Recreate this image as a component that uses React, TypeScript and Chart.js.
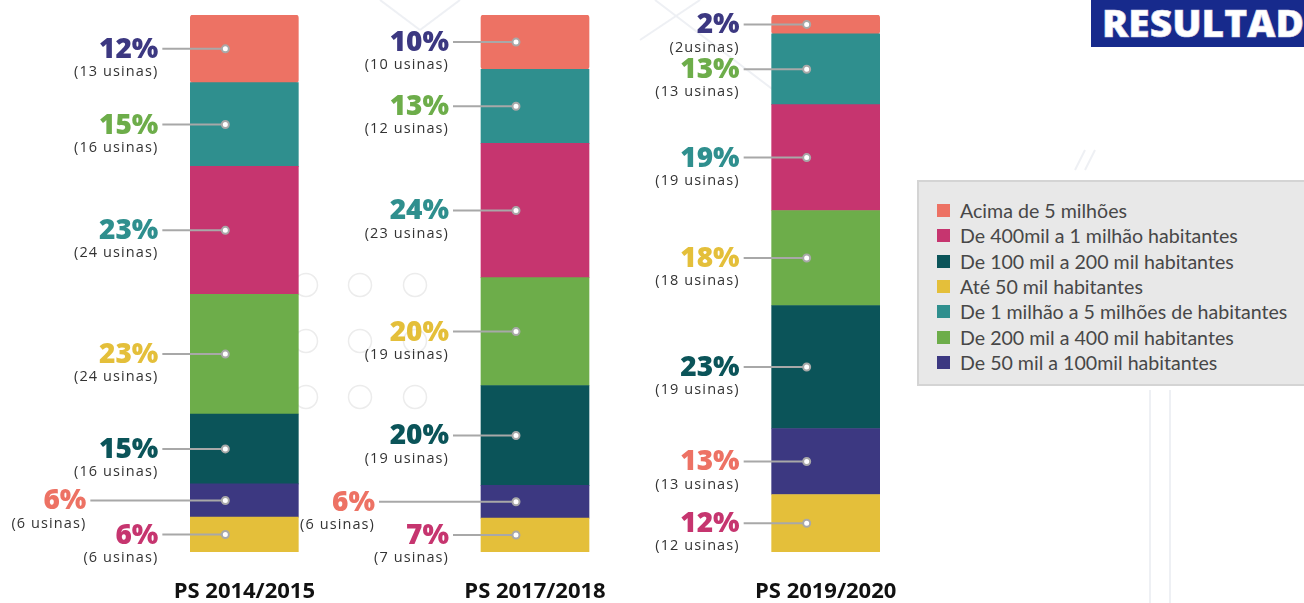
import React, { useEffect, useRef } from "react";
import { Chart, registerables } from "chart.js";

Chart.register(...registerables);

// ---- Data ----
const categories = ["PS 2014/2015", "PS 2017/2018", "PS 2019/2020"];

// stack order: bottom -> top
const seriesNames = [
  "Até 50 mil habitantes",
  "De 50 mil a 100mil habitantes",
  "De 100 mil a 200 mil habitantes",
  "De 200 mil a 400 mil habitantes",
  "De 400mil a 1 milhão habitantes",
  "De 1 milhão a 5 milhões de habitantes",
  "Acima de 5 milhões",
];

// segment shares
const ate50 = [6.5, 6.3, 10.7];
const de50a100 = [6.2, 6.1, 12.3];
const de100a200 = [13.0, 18.6, 22.9];
const de200a400 = [22.3, 20.1, 17.7];
const de400a1mi = [23.8, 25.0, 19.7];
const de1a5mi = [15.6, 13.8, 13.2];
const acima5mi = [12.6, 10.1, 3.5];

// printed percentage labels
const pctAte50 = ["6%", "7%", "12%"];
const pct50a100 = ["6%", "6%", "13%"];
const pct100a200 = ["15%", "20%", "23%"];
const pct200a400 = ["23%", "20%", "18%"];
const pct400a1mi = ["23%", "24%", "19%"];
const pct1a5mi = ["15%", "13%", "13%"];
const pctAcima5mi = ["12%", "10%", "2%"];

// printed plant counts
const usAte50 = ["(6 usinas)", "(7 usinas)", "(12 usinas)"];
const us50a100 = ["(6 usinas)", "(6 usinas)", "(13 usinas)"];
const us100a200 = ["(16 usinas)", "(19 usinas)", "(19 usinas)"];
const us200a400 = ["(24 usinas)", "(19 usinas)", "(18 usinas)"];
const us400a1mi = ["(24 usinas)", "(23 usinas)", "(19 usinas)"];
const us1a5mi = ["(16 usinas)", "(12 usinas)", "(13 usinas)"];
const usAcima5mi = ["(13 usinas)", "(10 usinas)", "(2usinas)"];

// legend order (indices into seriesNames)
const legendOrder = [6, 4, 2, 0, 5, 3, 1];

// ---- Styles ----
const SALMON = "#ED7264";
const TEAL = "#2F8F8E";
const MAGENTA = "#C6356F";
const GREEN = "#6DAD4A";
const DARKTEAL = "#0B5459";
const PURPLE = "#3C3881";
const YELLOW = "#E4BF3A";

const seriesColors = [YELLOW, PURPLE, DARKTEAL, GREEN, MAGENTA, TEAL, SALMON];
const labelColors = [MAGENTA, SALMON, DARKTEAL, YELLOW, TEAL, GREEN, PURPLE];
const seriesValues = [ate50, de50a100, de100a200, de200a400, de400a1mi, de1a5mi, acima5mi];
const seriesPct = [pctAte50, pct50a100, pct100a200, pct200a400, pct400a1mi, pct1a5mi, pctAcima5mi];
const seriesUsinas = [usAte50, us50a100, us100a200, us200a400, us400a1mi, us1a5mi, usAcima5mi];
// extra horizontal pull-out of some small-segment callouts (series index -> per bar)
const calloutExtra: Record<number, number[]> = { 1: [72, 74, 0] };

const calloutPlugin = {
  id: "callouts",
  afterDatasetsDraw(chart: any) {
    const ctx = chart.ctx as CanvasRenderingContext2D;
    ctx.save();
    chart.data.datasets.forEach((ds: any, i: number) => {
      const meta = chart.getDatasetMeta(i);
      meta.data.forEach((el: any, j: number) => {
        const p = el.getProps(["x", "y", "base", "width"], true);
        const cy = (p.y + p.base) / 2;
        const left = p.x - p.width / 2;
        const dotX = left + 35;
        const extra = (calloutExtra[i] && calloutExtra[i][j]) || 0;
        const textRight = left - 32 - extra;
        // leader line
        ctx.strokeStyle = "#A8A8A8";
        ctx.lineWidth = 2;
        ctx.beginPath();
        ctx.moveTo(textRight + 4, cy);
        ctx.lineTo(dotX, cy);
        ctx.stroke();
        // dot
        ctx.beginPath();
        ctx.arc(dotX, cy, 3.5, 0, Math.PI * 2);
        ctx.fillStyle = "#FFFFFF";
        ctx.fill();
        ctx.lineWidth = 2;
        ctx.strokeStyle = "#A8A8A8";
        ctx.stroke();
        // percentage
        ctx.textAlign = "right";
        ctx.textBaseline = "middle";
        ctx.fillStyle = ds.calloutColor;
        ctx.font = '800 28px "Open Sans"';
        ctx.fillText(ds.pct[j], textRight, cy + 1);
        // count
        (ctx as any).letterSpacing = "1.1px";
        ctx.fillStyle = "#333333";
        ctx.font = '400 14.5px "Open Sans"';
        ctx.fillText(ds.usinas[j], textRight, cy + 23);
        (ctx as any).letterSpacing = "0px";
      });
    });
    ctx.restore();
  },
};

const circleSpots: [number, number][] = [];
for (const cx of [306, 360, 415]) for (const cyy of [285, 341, 397]) circleSpots.push([cx, cyy]);

export default function App() {
  const canvasRef = useRef<HTMLCanvasElement | null>(null);

  useEffect(() => {
    document.body.style.margin = "0";
    const canvas = canvasRef.current;
    if (!canvas) return;
    const chart = new Chart(canvas, {
      type: "bar",
      data: {
        labels: categories,
        datasets: seriesNames.map((name, i) => ({
          label: name,
          data: seriesValues[i],
          backgroundColor: seriesColors[i],
          borderWidth: 0,
          borderRadius: 3,
          borderSkipped: false,
          barThickness: 108,
          pct: seriesPct[i],
          usinas: seriesUsinas[i],
          calloutColor: labelColors[i],
        })) as any,
      },
      options: {
        responsive: false,
        animation: false,
        devicePixelRatio: 1,
        layout: { padding: { left: 99, right: 333, top: 15, bottom: 0 } },
        plugins: {
          legend: { display: false },
          tooltip: { enabled: false },
        },
        scales: {
          x: {
            stacked: true,
            grid: { display: false, drawTicks: false },
            border: { display: false },
            afterFit: (scale: any) => {
              scale.height = 51;
            },
            ticks: {
              padding: 27,
              color: "#111111",
              font: { family: '"Open Sans"', weight: "bold", size: 22 },
            },
          },
          y: {
            stacked: true,
            display: false,
            min: 0,
            max: 100,
          },
        },
      },
      plugins: [calloutPlugin],
    });
    return () => chart.destroy();
  }, []);

  return (
    <div
      style={{
        position: "absolute",
        left: 0,
        top: 0,
        width: 1304,
        height: 603,
        overflow: "hidden",
        background: "#FFFFFF",
        fontFamily: '"Open Sans", sans-serif',
      }}
    >
      <svg width={1304} height={603} style={{ position: "absolute", left: 0, top: 0 }}>
        <g stroke="#EEF0F4" strokeWidth={2} fill="none">
          <line x1={640} y1={40} x2={700} y2={0} />
          <line x1={655} y1={0} x2={800} y2={110} />
          <line x1={380} y1={0} x2={420} y2={30} />
          <line x1={420} y1={30} x2={460} y2={0} />
          <line x1={1075} y1={170} x2={1085} y2={150} />
          <line x1={1085} y1={170} x2={1095} y2={150} />
          <line x1={1150} y1={390} x2={1150} y2={603} />
          <line x1={1170} y1={390} x2={1170} y2={603} />
        </g>
        <g stroke="#ECECEC" strokeWidth={1.5} fill="none">
          {circleSpots.map(([cx, cy], k) => (
            <circle key={k} cx={cx} cy={cy} r={11.5} />
          ))}
        </g>
      </svg>
      <canvas
        ref={canvasRef}
        width={1304}
        height={603}
        style={{ position: "absolute", left: 0, top: 0, width: 1304, height: 603 }}
      />
      <div
        style={{
          position: "absolute",
          left: 917,
          top: 180,
          width: 400,
          height: 206,
          background: "#E8E8E8",
          border: "2px solid #D4D4D4",
          boxSizing: "border-box",
        }}
      >
        {legendOrder.map((idx, k) => (
          <div
            key={k}
            style={{
              position: "absolute",
              left: 18,
              top: 16 + k * 25.3,
              height: 25,
              display: "flex",
              alignItems: "center",
              whiteSpace: "nowrap",
            }}
          >
            <span
              style={{
                display: "inline-block",
                width: 13,
                height: 13,
                background: seriesColors[idx],
                marginRight: 10,
              }}
            />
            <span style={{ fontFamily: "Lato", fontSize: 19.6, color: "#474747" }}>
              {seriesNames[idx]}
            </span>
          </div>
        ))}
      </div>
      <svg
        width={213}
        height={47}
        style={{ position: "absolute", left: 1091, top: 0, background: "#172A8C" }}
      >
        <text
          x={11}
          y={37}
          fill="#FFFFFF"
          stroke="#D8D8E8"
          strokeWidth={0.6}
          fontFamily="Open Sans"
          fontWeight={800}
          fontSize={37}
          textLength={202}
          lengthAdjust="spacingAndGlyphs"
        >
          RESULTAD
        </text>
      </svg>
    </div>
  );
}
